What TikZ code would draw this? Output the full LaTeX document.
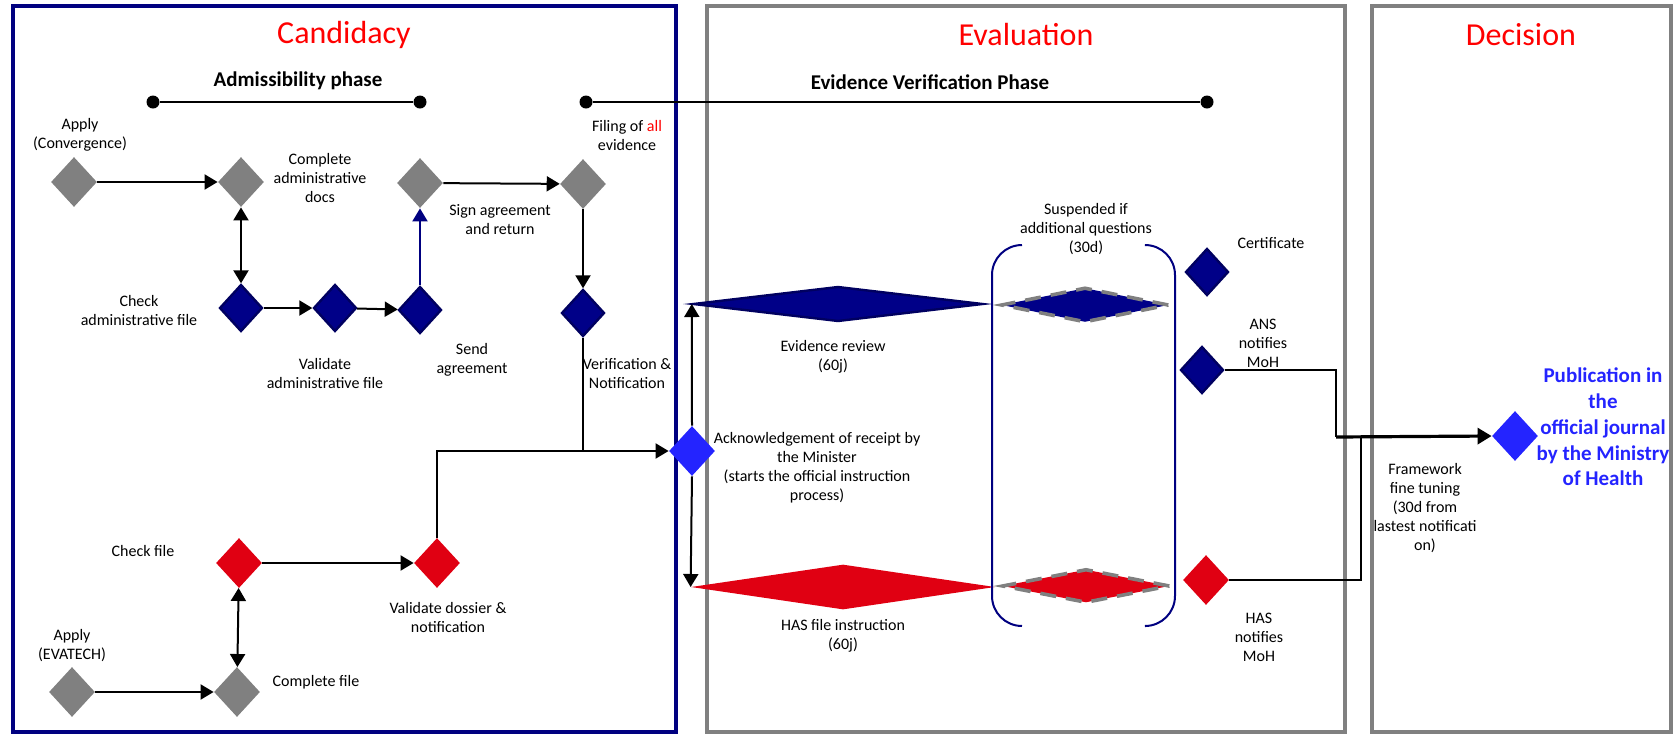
\documentclass[tikz,border=0pt]{standalone}
\usepackage{fontspec}
\setmainfont{Carlito}
\usetikzlibrary{shapes.geometric,arrows.meta}
\definecolor{navyF}{HTML}{000088}
\definecolor{navyD}{HTML}{000060}
\definecolor{boxnavy}{HTML}{000080}
\definecolor{dgray}{HTML}{808080}
\definecolor{rred}{HTML}{E00012}
\definecolor{bblue}{HTML}{2424FF}
\definecolor{tred}{HTML}{FF0000}
\begin{document}
\begin{tikzpicture}[x=0.5pt,y=-0.5pt,
  dia/.style={diamond, inner sep=0pt, minimum width=23pt, minimum height=25pt},
  graydia/.style={dia, fill=dgray},
  navydia/.style={dia, fill=navyF, draw=navyD, line width=1.2pt, minimum width=21.5pt, minimum height=23.5pt},
  reddia/.style={dia, fill=rred},
  bluedia/.style={dia, fill=bblue},
  lbl/.style={font=\fontsize{8}{9.5}\selectfont, align=center, inner sep=0pt},
  title/.style={font=\fontsize{16}{19}\selectfont, text=tred, inner sep=0pt},
  phase/.style={font=\bfseries\fontsize{10.5}{12.5}\selectfont, inner sep=0pt},
  dot/.style={circle, fill=black, inner sep=0pt, minimum size=6.5pt},
  tip/.tip={Triangle[length=6.5pt,width=7.5pt]},
  conn/.style={line width=1pt, -tip},
  dconn/.style={line width=1pt, tip-tip},
  plain/.style={line width=1pt},
  lane/.style={line width=2.3pt},
  susdia/.style={diamond, inner sep=0pt, draw=dgray, line width=1.8pt, dash pattern=on 8pt off 5pt}
]
\useasboundingbox (0,0) rectangle (1678,735);

% lanes
\draw[lane, draw=boxnavy] (13,6) rectangle (676,732);
\draw[lane, draw=dgray] (707,6) rectangle (1345,732);
\draw[lane, draw=dgray] (1372,6) rectangle (1671,732);

% titles
\node[title] (tC) at (344,35) {Candidacy};
\node[title] (tE) at (1026,35) {Evaluation};
\node[title] (tD) at (1521,35) {Decision};

% phases
\node[phase] (pA) at (298,81) {Admissibility phase};
\node[phase] (pE) at (930,82) {Evidence Verification Phase};
\node[dot] (a1) at (153,102) {};
\node[dot] (a2) at (420,102) {};
\node[dot] (e1) at (586,102) {};
\node[dot] (e2) at (1207,102) {};
\draw[line width=1.2pt] (a1) -- (a2);
\draw[line width=1.2pt] (e1) -- (e2);

% candidacy nodes
\node[graydia] (apc) at (74,182) {};
\node[graydia] (cad) at (241,182) {};
\node[graydia] (sig) at (420,183) {};
\node[graydia] (fil) at (583,184) {};
\node[navydia] (cha) at (241,308) {};
\node[navydia] (vaa) at (335,308) {};
\node[navydia] (sea) at (420,310) {};
\node[navydia] (ver) at (583,313) {};
\node[reddia] (chf) at (239,563) {};
\node[reddia] (vdo) at (437,563) {};
\node[graydia] (ape) at (72,692) {};
\node[graydia] (cof) at (237,692) {};
\node[bluedia] (ack) at (692,451) {};

% candidacy labels
\node[lbl] (l1) at (80,135) {Apply\\(Convergence)};
\node[lbl] (l2) at (320,178) {Complete\\administrative\\docs};
\node[lbl] (l3) at (500,220) {Sign agreement\\and return};
\node[lbl] (l4) at (627,135) {Filing of {\color{tred}all}\\evidence};
\node[lbl] (l5) at (139,310) {Check\\administrative file};
\node[lbl] (l6) at (325,373) {Validate\\administrative file};
\node[lbl] (l7) at (472,360) {Send\\agreement};
\node[lbl] (l8) at (627,374) {Verification \&\\Notification};
\node[lbl] (l9) at (143,551) {Check file};
\node[lbl] (l10) at (448,617) {Validate dossier \&\\notification};
\node[lbl] (l11) at (72,646) {Apply\\(EVATECH)};
\node[lbl] (l12) at (316,682) {Complete file};
\node[lbl] (l13) at (817,468) {Acknowledgement of receipt by\\the Minister\\(starts the official instruction\\process)};

% evaluation nodes
\node[diamond, inner sep=0pt, minimum width=145pt, minimum height=17.5pt, fill=navyF, draw=navyD, line width=1.2pt] (er) at (838,304) {};
\node[diamond, inner sep=0pt, minimum width=152pt, minimum height=22.5pt, fill=rred] (hf) at (843,587) {};
\node[susdia, fill=navyF, minimum width=84pt, minimum height=17.5pt] (s1) at (1085,305) {};
\node[susdia, fill=rred, minimum width=84pt, minimum height=17pt] (s2) at (1086,586) {};
\node[navydia] (cer) at (1207,272) {};
\node[navydia] (ans) at (1202,370) {};
\node[reddia] (hn) at (1206,580) {};
\node[bluedia] (pub) at (1515,436) {};

\node[lbl] (l14) at (833,357) {Evidence review\\(60j)};
\node[lbl] (l15) at (843,636) {HAS file instruction\\(60j)};
\node[lbl] (l16) at (1086,229) {Suspended if\\additional questions\\(30d)};
\node[lbl] (l17) at (1271,243) {Certificate};
\node[lbl] (l18) at (1263,343) {ANS\\notifies\\MoH};
\node[lbl] (l19) at (1259,637) {HAS\\notifies\\MoH};
\node[lbl] (l20) at (1425,508) {Framework\\fine tuning\\(30d from\\lastest notificati\\on)};
\node[font=\bfseries\fontsize{10.5}{12.9}\selectfont, text=bblue, align=center, inner sep=0pt] (l21) at (1603,427) {Publication in\\the\\official journal\\by the Ministry\\of Health};

% suspension bracket
\draw[draw=boxnavy, line width=1pt, rounded corners=15pt] (1022,245) -- (992,245) -- (992,626) -- (1022,626);
\draw[draw=boxnavy, line width=1pt, rounded corners=15pt] (1146,245) -- (1175,245) -- (1175,626) -- (1146,626);

% connectors candidacy
\draw[conn] (apc) -- (cad);
\draw[dconn] (cad) -- (cha);
\draw[conn] (cha) -- (vaa);
\draw[conn] (vaa) -- (sea);
\draw[conn, draw=boxnavy, -{Triangle[length=6.5pt,width=7.5pt,fill=boxnavy]}] (sea) -- (sig);
\draw[conn] (sig) -- (fil);
\draw[conn] (fil) -- (ver);
\draw[plain] (ver.south) -- (ver.south |- ack.west);
\draw[conn] (vdo.north) |- (ack.west);
\draw[conn] (chf) -- (vdo);
\draw[dconn] (chf) -- (cof);
\draw[conn] (ape) -- (cof);

% connectors evaluation
\draw[conn] (ack.north) -- (er.west);
\draw[conn] (ack.south) -- (hf.west);
\coordinate (j1) at (1336,437);
\coordinate (j2) at (1361,437);
\draw[plain] (ans.east) -| (j1);
\draw[plain] (hn.east) -| (j2);
\draw[line width=1.6pt, -{Triangle[length=7pt,width=8pt]}] (j1) -- (pub.west);
\end{tikzpicture}
\end{document}
